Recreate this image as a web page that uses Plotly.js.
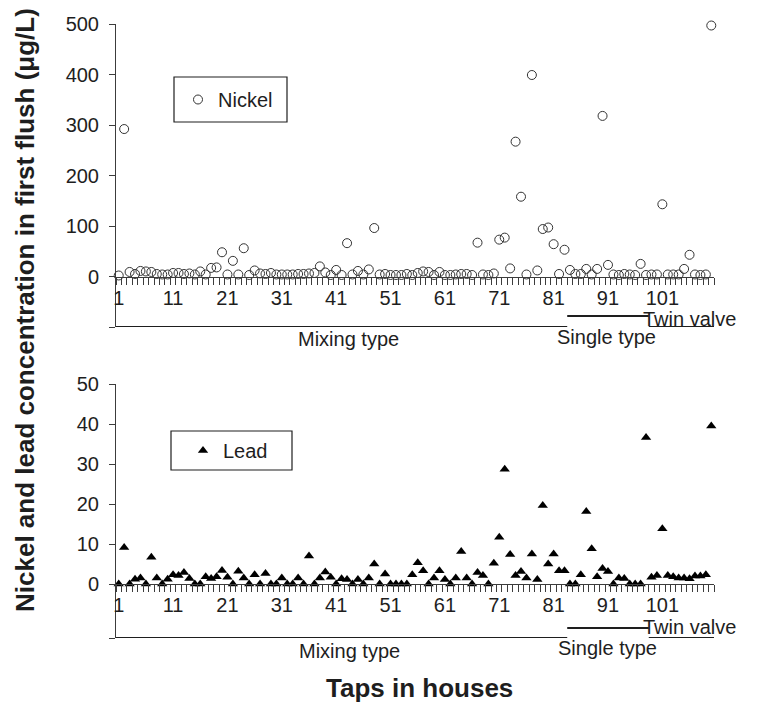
<!DOCTYPE html>
<html><head><meta charset="utf-8">
<script src="https://cdn.plot.ly/plotly-3.0.1.min.js"></script>
<style>html,body{margin:0;padding:0;background:#fff}#chart{width:764px;height:706px}</style>
</head><body><div id="chart"></div>
<script>
const taps = [1,2,3,4,5,6,7,8,9,10,11,12,13,14,15,16,17,18,19,20,21,22,23,24,25,26,27,28,29,30,31,32,33,34,35,36,37,38,39,40,41,42,43,44,45,46,47,48,49,50,51,52,53,54,55,56,57,58,59,60,61,62,63,64,65,66,67,68,69,70,71,72,73,74,75,76,77,78,79,80,81,82,83,84,85,86,87,88,89,90,91,92,93,94,95,96,97,98,99,100,101,102,103,104,105,106,107,108,109,110];
const nickel = [2,292,9,5,11,10,9,5,4,4, 7,7,5,6,4,10,4,17,18,48, 4,31,4,56,3,12,6,5,7,4, 4,4,4,5,5,6,7,20,8,3, 13,3,66,4,11,4,14,96,4,5, 3,3,3,5,3,7,10,9,3,9, 3,3,4,5,5,3,67,4,3,6, 73,77,16,267,158,4,399,12,94,97, 64,5,53,13,5,5,15,4,15,318, 23,4,3,5,4,3,25,3,4,4, 143,4,4,4,15,43,4,3,4,497];
const lead = [0,9.1,0,1.2,1.5,0,6.7,1.5,0,1.2, 2.3,2.1,2.9,1.4,0,0,1.8,1.4,1.8,3.4, 1.7,0,3.2,1.5,0,2.3,0,2.6,0,0, 1.5,0,0,1.5,0,7.0,0,1.5,3.0,1.7, 0,1.3,1.1,0,1.1,0,1.5,5.0,0,2.5, 0,0,0,0,2.3,5.3,3.3,0,1.5,3.3, 1.1,0,1.5,8.1,1.5,0,2.9,2.1,0,5.2, 11.7,28.7,7.4,2.1,3.1,1.5,7.5,1.1,19.6,5.0, 7.5,3.3,3.3,0,0,2.3,18.1,8.8,1.8,3.9, 3.1,0,1.5,1.4,0,0,0,36.6,1.7,2.1, 13.8,2.1,1.8,1.5,1.5,1.3,2.0,2.0,2.3,39.5];
const xTickVals = [1,11,21,31,41,51,61,71,81,91,101];
const nickelTickVals = [-100,0,100,200,300,400,500];
const nickelTickText = ['','0','100','200','300','400','500'];
const leadTickVals = [-13.5,0,10,20,30,40,50];
const leadTickText = ['','0','10','20','30','40','50'];
const groupNames = ['Mixing type','Single type','Twin valve'];
const groupStart = [0.5, 83.5, 98.5];
const groupEnd = [83.5, 98.5, 110.5];

// category boundaries (tick marks sit between taps)
const boundaryTicks = taps.map(t => t - 0.5).concat([taps[taps.length - 1] + 0.5]);

// pixel geometry helpers
const L = 116, R = 50, T = 24, B = 68, WIDTH = 764, HEIGHT = 706;
const W = WIDTH - L - R, H = HEIGHT - T - B;
const PX = x => (x - L) / W;
const PY = y => (T + H - y) / H;

const FONT = 'Liberation Sans, Arial, sans-serif';
const INK = '#1e1e1e';
const AXC = '#3c3c3c';

const traces = [
  {x: taps, y: nickel, xaxis: 'x', yaxis: 'y', type: 'scatter', mode: 'markers', name: 'Nickel',
   cliponaxis: false, legend: 'legend',
   marker: {symbol: 'circle-open', size: 9, color: '#333', line: {width: 1, color: '#333'}}},
  {x: taps, y: lead, xaxis: 'x2', yaxis: 'y2', type: 'scatter', mode: 'markers', name: 'Lead',
   cliponaxis: false, legend: 'legend2',
   marker: {symbol: 'triangle-up', size: 9, color: '#000'}},
  {x: [], y: [], xaxis: 'x3', yaxis: 'y', type: 'scatter', mode: 'markers', showlegend: false, hoverinfo: 'skip'},
  {x: [], y: [], xaxis: 'x4', yaxis: 'y2', type: 'scatter', mode: 'markers', showlegend: false, hoverinfo: 'skip'}
];

function xAxis(pos) {
  return {
    range: [0.5, 110.5], domain: [0, 1], anchor: 'free', position: pos,
    showline: true, linecolor: AXC, linewidth: 1, zeroline: false, showgrid: false,
    tickmode: 'array', tickvals: xTickVals, ticktext: xTickVals.map(String),
    ticks: 'outside', ticklen: 3, tickcolor: 'rgba(0,0,0,0)',
    tickfont: {family: FONT, size: 20, color: INK},
    fixedrange: true
  };
}
function tickAxis(base, pos) {
  return {
    overlaying: base, range: [0.5, 110.5], domain: [0, 1], anchor: 'free', position: pos,
    showline: false, zeroline: false, showgrid: false,
    tickmode: 'array', tickvals: boundaryTicks, showticklabels: false,
    ticks: 'outside', ticklen: 7, tickcolor: AXC, tickwidth: 1, fixedrange: true
  };
}
function yAxis(dom, rng, vals, txt, anchor) {
  return {
    domain: dom, range: rng, anchor: anchor,
    showline: true, linecolor: AXC, linewidth: 1, zeroline: false, showgrid: false,
    tickmode: 'array', tickvals: vals, ticktext: txt,
    ticks: 'outside', ticklen: 6, tickcolor: AXC, ticklabelstandoff: 6,
    tickfont: {family: FONT, size: 20, color: INK}, fixedrange: true
  };
}

const shapes = [];
const annotations = [];
const topLineY = [-100, -78, -100];
const botLineY = [-13.5, -11, -13.5];
for (let i = 0; i < groupNames.length; i++) {
  shapes.push({type: 'line', xref: 'x', yref: 'y', x0: groupStart[i], x1: groupEnd[i], y0: topLineY[i], y1: topLineY[i], line: {color: INK, width: 2}});
  shapes.push({type: 'line', xref: 'x2', yref: 'y2', x0: groupStart[i], x1: groupEnd[i], y0: botLineY[i], y1: botLineY[i], line: {color: INK, width: 2}});
}
const topLabelPos = [[348, 339], [606, 337], [689, 319]];
const botLabelPos = [[349, 651], [607, 648], [689, 627]];
for (let i = 0; i < groupNames.length; i++) {
  annotations.push({xref: 'paper', yref: 'paper', x: PX(topLabelPos[i][0]), y: PY(topLabelPos[i][1]), text: groupNames[i], showarrow: false, xanchor: 'center', yanchor: 'middle', font: {family: FONT, size: 20, color: INK}});
  annotations.push({xref: 'paper', yref: 'paper', x: PX(botLabelPos[i][0]), y: PY(botLabelPos[i][1]), text: groupNames[i], showarrow: false, xanchor: 'center', yanchor: 'middle', font: {family: FONT, size: 20, color: INK}});
}
annotations.push({xref: 'paper', yref: 'paper', x: PX(419), y: PY(688), text: '<b>Taps in houses</b>', showarrow: false, xanchor: 'center', yanchor: 'middle', font: {family: FONT, size: 26, color: INK}});
annotations.push({xref: 'paper', yref: 'paper', x: PX(25), y: PY(310), text: '<b>Nickel and lead concentration in first flush (μg/L)</b>', textangle: -90, showarrow: false, xanchor: 'center', yanchor: 'middle', font: {family: FONT, size: 26, color: INK}});

// legend frames
shapes.push({type: 'rect', xref: 'paper', yref: 'paper', x0: PX(174), x1: PX(287), y0: PY(122), y1: PY(77), line: {color: INK, width: 1.2}});
shapes.push({type: 'rect', xref: 'paper', yref: 'paper', x0: PX(171), x1: PX(292), y0: PY(470), y1: PY(431), line: {color: INK, width: 1.2}});

const layout = {
  width: WIDTH, height: HEIGHT,
  margin: {l: L, r: R, t: T, b: B},
  paper_bgcolor: '#fff', plot_bgcolor: 'rgba(0,0,0,0)',
  showlegend: true,
  legend: {x: PX(178), y: PY(99.5), xanchor: 'left', yanchor: 'middle', bgcolor: 'rgba(0,0,0,0)', borderwidth: 0, font: {family: FONT, size: 20, color: INK}},
  legend2: {x: PX(183), y: PY(450.5), xanchor: 'left', yanchor: 'middle', bgcolor: 'rgba(0,0,0,0)', borderwidth: 0, font: {family: FONT, size: 20, color: INK}},
  xaxis: xAxis(PY(276.5)),
  xaxis2: xAxis(PY(584)),
  xaxis3: tickAxis('x', PY(276.5)),
  xaxis4: tickAxis('x2', PY(584)),
  yaxis: yAxis([PY(327), 1], [-100, 500], nickelTickVals, nickelTickText, 'x'),
  yaxis2: yAxis([0, PY(384)], [-13.5, 50], leadTickVals, leadTickText, 'x2'),
  shapes: shapes,
  annotations: annotations
};

Plotly.newPlot('chart', traces, layout, {displayModeBar: false, staticPlot: true});
</script></body></html>
